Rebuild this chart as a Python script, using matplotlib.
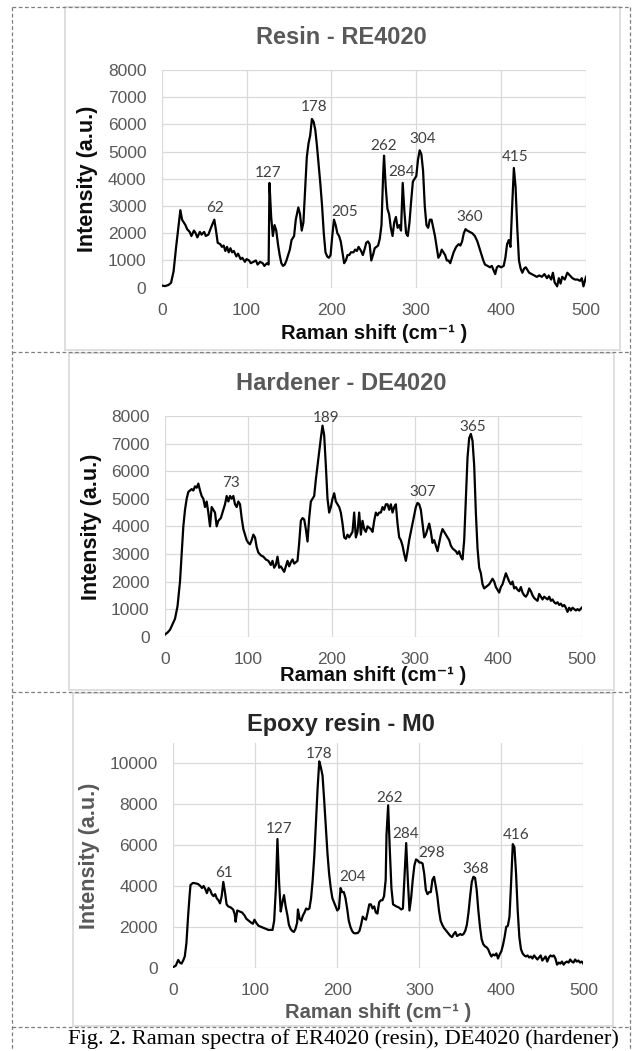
import matplotlib
matplotlib.use("Agg")
import matplotlib.pyplot as plt
from matplotlib.lines import Line2D
from matplotlib.patches import Rectangle

# --------------------
# Data: Raman shift (cm-1) and intensity (a.u.)

# Resin - RE4020
resin_shift = [0, 4, 8, 11, 14, 17, 20, 22, 24, 26, 28, 30, 33, 35, 38, 40, 42, 45, 47, 50,
               52, 55, 58, 60, 62, 64, 66, 69, 71, 73, 75, 77, 79, 81, 83, 85, 88, 90, 93, 95,
               98, 100, 103, 105, 108, 111, 113, 116, 119, 121, 124, 126, 127, 129, 131, 133,
               135, 137, 139, 141, 143, 145, 147, 149, 151, 153, 156, 158, 161, 163, 165, 167,
               169, 171, 173, 175, 177, 179, 181, 183, 185, 187, 189, 191, 193, 195, 197, 199,
               201, 203, 205, 207, 209, 211, 213, 215, 217, 219, 221, 223, 226, 228, 230, 232,
               235, 237, 239, 241, 243, 245, 247, 249, 251, 253, 255, 257, 259, 261, 262, 264,
               266, 268, 270, 272, 274, 276, 278, 280, 282, 284, 286, 288, 290, 292, 294, 296,
               298, 300, 302, 304, 306, 308, 310, 312, 314, 316, 318, 320, 322, 324, 326, 328,
               330, 332, 334, 336, 338, 340, 342, 344, 347, 350, 352, 354, 356, 358, 360, 363,
               366, 369, 372, 375, 377, 379, 381, 384, 387, 389, 391, 393, 395, 397, 400, 403,
               405, 407, 409, 411, 413, 415, 417, 419, 421, 423, 425, 427, 429, 431, 433, 436,
               439, 442, 445, 448, 451, 454, 456, 459, 461, 463, 466, 468, 470, 472, 475, 478,
               481, 484, 487, 490, 493, 495, 497, 500]
resin_intensity = [80, 60, 100, 180, 600, 1500, 2300, 2850, 2500, 2400, 2300, 2150, 2050, 1900,
                   2100, 2000, 1850, 2050, 1950, 2050, 1900, 1950, 2200, 2350, 2500, 2100, 1650,
                   1600, 1500, 1550, 1350, 1500, 1300, 1450, 1300, 1350, 1150, 1250, 1050, 1100,
                   950, 1050, 1000, 900, 950, 1000, 850, 950, 900, 800, 900, 850, 3850, 2600,
                   1900, 2300, 2100, 1600, 1200, 900, 800, 850, 1000, 1200, 1400, 1750, 1900,
                   2500, 2950, 2700, 2100, 2400, 3600, 4800, 5300, 5600, 6200, 6100, 5800, 5200,
                   4500, 3800, 3000, 2000, 1300, 1150, 1100, 1200, 1900, 2500, 2300, 2000, 1900,
                   1700, 1300, 900, 1000, 1200, 1200, 1300, 1300, 1400, 1350, 1500, 1350, 1200,
                   1400, 1650, 1700, 1600, 1000, 1200, 1450, 1500, 1550, 1800, 2300, 4200, 4850,
                   3700, 2900, 2700, 2200, 1900, 2400, 2600, 2200, 2300, 2100, 3850, 2800, 2000,
                   1900, 2400, 3200, 3900, 4000, 4100, 4700, 5050, 4900, 4300, 3000, 2300, 2200,
                   2500, 2500, 2200, 1900, 1500, 1100, 1200, 1400, 1300, 1200, 1000, 1000, 900,
                   1100, 1300, 1500, 1600, 1550, 1700, 2000, 2150, 2100, 2050, 2000, 1900, 1700,
                   1400, 1200, 1000, 850, 800, 750, 800, 650, 500, 750, 800, 750, 800, 1100, 1600,
                   1750, 1500, 3000, 4400, 3700, 2200, 1000, 700, 550, 700, 750, 650, 550, 500,
                   450, 400, 450, 400, 500, 350, 450, 300, 550, 200, 50, 350, 150, 400, 300, 550,
                   450, 350, 300, 300, 250, 350, 50, 400]
resin_peaks = [62, 127, 178, 205, 262, 284, 304, 360, 415]
resin_peak_x = [63, 125, 180, 215, 261, 283, 307, 363, 416]
resin_peak_y = [2940, 4200, 6630, 2790, 5210, 4260, 5470, 2590, 4820]

# Hardener - DE4020
hardener_shift = [0, 3, 6, 9, 12, 15, 18, 20, 22, 24, 26, 28, 30, 32, 34, 36, 38, 40, 42, 44,
                  46, 48, 50, 52, 54, 56, 58, 60, 62, 64, 67, 70, 72, 74, 76, 78, 80, 82, 84, 86,
                  88, 90, 92, 94, 96, 98, 100, 102, 104, 106, 108, 110, 112, 115, 118, 121, 124,
                  127, 129, 131, 133, 135, 137, 139, 141, 143, 145, 147, 149, 151, 153, 155, 157,
                  159, 161, 163, 165, 167, 169, 171, 173, 175, 177, 179, 181, 183, 185, 187, 189,
                  191, 193, 195, 197, 199, 201, 203, 205, 207, 209, 211, 213, 215, 217, 219, 221,
                  223, 225, 227, 229, 231, 233, 235, 237, 239, 241, 243, 245, 247, 249, 251, 253,
                  255, 257, 259, 261, 263, 265, 267, 269, 271, 273, 275, 277, 279, 281, 283, 285,
                  287, 289, 291, 293, 295, 297, 299, 301, 303, 305, 307, 309, 311, 313, 315, 317,
                  319, 321, 323, 325, 327, 329, 331, 333, 335, 337, 339, 341, 343, 345, 347, 349,
                  351, 353, 355, 357, 359, 361, 363, 365, 367, 369, 371, 373, 375, 377, 379, 381,
                  383, 385, 387, 389, 391, 393, 395, 397, 399, 401, 403, 405, 407, 409, 411, 413,
                  415, 417, 419, 421, 423, 425, 427, 429, 431, 433, 435, 437, 439, 441, 443, 445,
                  447, 449, 451, 453, 455, 457, 459, 461, 463, 465, 467, 469, 471, 473, 475, 477,
                  479, 481, 483, 485, 487, 489, 491, 493, 495, 497, 500]
hardener_intensity = [80, 150, 250, 450, 650, 1100, 2000, 3000, 4000, 4600, 5000, 5250, 5300,
                      5350, 5300, 5450, 5400, 5550, 5300, 5100, 5000, 4700, 4900, 4500, 4000,
                      4700, 4600, 4500, 4000, 4200, 4300, 4600, 4800, 5100, 4900, 5100, 5000,
                      5100, 4800, 4700, 4900, 4800, 4300, 3900, 3700, 3500, 3400, 3350, 3500,
                      3700, 3600, 3250, 3050, 2950, 2900, 2800, 2750, 2600, 2750, 2500, 2600,
                      2900, 2500, 2550, 2450, 2350, 2550, 2750, 2550, 2700, 2800, 2650, 2700,
                      2750, 3400, 4200, 4300, 4250, 3900, 3450, 4300, 4900, 5000, 5100, 5700,
                      6200, 6700, 7200, 7650, 7300, 6200, 5000, 4500, 4700, 5000, 5200, 4900,
                      4800, 4700, 4500, 4100, 3600, 3550, 3700, 3600, 3700, 3800, 4500, 3600,
                      3800, 4500, 3700, 4200, 3900, 3800, 4000, 3950, 3900, 3800, 4200, 4500,
                      4400, 4500, 4500, 4700, 4600, 4800, 4800, 4600, 4800, 4500, 4700, 4800,
                      4100, 3600, 3500, 3300, 3000, 2750, 3100, 3500, 3800, 4100, 4400, 4700,
                      4850, 4800, 4600, 4100, 3600, 3700, 3900, 4100, 3800, 3400, 3500, 3300,
                      3100, 3400, 3700, 3900, 3800, 3700, 3600, 3500, 3300, 3200, 3150, 3100,
                      3000, 3100, 2900, 2800, 3500, 5000, 6500, 7200, 7350, 7100, 6200, 4500,
                      3200, 2500, 2300, 1900, 1750, 1800, 1850, 1900, 2000, 2100, 2000, 1800,
                      1700, 1600, 1800, 1900, 2100, 2300, 2150, 2000, 1900, 2000, 1750, 1800,
                      1700, 1650, 1800, 1600, 1500, 1450, 1550, 1750, 1650, 1500, 1400, 1350,
                      1300, 1550, 1450, 1350, 1450, 1400, 1350, 1450, 1300, 1350, 1250, 1200,
                      1250, 1150, 1200, 1100, 1150, 1050, 900, 1050, 950, 1050, 1000, 950, 1000,
                      950, 1050]
hardener_peaks = [73, 189, 307, 365]
hardener_peak_x = [79, 193, 309, 369]
hardener_peak_y = [5560, 7920, 5260, 7590]

# Epoxy resin - M0
epoxy_shift = [0, 3, 6, 8, 10, 12, 14, 16, 18, 20, 21, 24, 27, 30, 33, 35, 37, 39, 41, 43, 45,
               47, 49, 51, 53, 55, 57, 59, 61, 63, 65, 67, 70, 73, 75, 76, 78, 81, 84, 87, 89,
               92, 95, 97, 99, 101, 104, 107, 110, 113, 116, 119, 121, 123, 125, 127, 129, 131,
               133, 135, 137, 139, 141, 143, 145, 147, 149, 151, 152, 154, 156, 158, 160, 162,
               164, 166, 168, 170, 172, 174, 176, 178, 180, 182, 184, 186, 188, 190, 192, 194,
               196, 198, 200, 202, 204, 206, 208, 210, 212, 214, 216, 218, 220, 222, 225, 227,
               229, 231, 233, 235, 237, 239, 241, 243, 245, 247, 249, 251, 253, 255, 257, 259,
               260, 262, 264, 266, 268, 270, 272, 275, 278, 280, 282, 284, 286, 288, 290, 292,
               294, 296, 298, 300, 302, 304, 306, 308, 310, 312, 314, 316, 318, 320, 322, 324,
               326, 328, 330, 332, 334, 336, 338, 340, 342, 344, 346, 348, 350, 352, 354, 356,
               358, 360, 362, 364, 366, 368, 370, 372, 374, 376, 378, 380, 382, 384, 386, 388,
               390, 392, 394, 396, 398, 400, 402, 404, 406, 408, 410, 412, 414, 416, 418, 420,
               422, 424, 426, 428, 430, 432, 434, 436, 438, 440, 442, 444, 446, 448, 450, 452,
               454, 456, 458, 460, 462, 464, 466, 468, 470, 472, 474, 476, 478, 480, 482, 484,
               486, 488, 490, 492, 494, 496, 498, 500]
epoxy_intensity = [30, 100, 380, 250, 200, 350, 550, 1200, 2500, 3600, 4050, 4150, 4130, 4100,
                   4000, 3900, 4000, 3850, 3650, 3900, 3800, 3600, 3500, 3600, 3400, 3300, 3150,
                   3500, 4200, 3700, 3100, 3000, 2950, 2850, 2600, 2250, 2800, 2750, 2700, 2550,
                   2400, 2300, 2200, 2150, 2350, 2200, 2050, 2000, 1950, 1900, 1850, 1850, 1850,
                   2300, 3800, 6300, 4200, 2750, 3200, 3550, 3000, 2600, 2100, 1900, 1800, 1750,
                   1900, 2200, 2850, 2400, 2300, 2550, 2700, 2900, 2850, 2900, 3400, 4300, 5500,
                   7200, 8800, 10100, 9800, 9400, 8200, 6900, 5600, 4600, 3900, 3400, 3200, 3000,
                   2800, 2900, 3900, 3700, 3700, 3400, 2900, 2300, 2000, 1800, 1700, 1680, 1700,
                   1800, 2100, 2500, 2400, 2350, 2700, 3100, 3100, 2900, 3000, 2700, 2650, 3200,
                   3300, 3300, 3500, 4300, 6500, 7950, 5800, 3900, 3100, 3050, 3000, 2950, 2850,
                   2900, 4500, 6100, 4300, 2800, 3400, 4300, 5000, 5300, 5250, 5150, 5150, 5100,
                   4600, 3800, 3600, 3700, 3700, 4300, 4450, 4000, 3500, 2800, 2300, 2100, 1950,
                   1850, 1750, 1650, 1550, 1500, 1650, 1750, 1550, 1600, 1650, 1600, 1650, 1800,
                   2100, 2700, 3500, 4200, 4450, 4400, 3800, 2800, 2000, 1400, 1150, 1050, 1000,
                   900, 700, 550, 650, 600, 700, 450, 650, 800, 1100, 1500, 2000, 2050, 2500,
                   4200, 6050, 5900, 4600, 2800, 1500, 900, 700, 600, 550, 600, 500, 550, 450,
                   600, 500, 400, 500, 600, 350, 450, 550, 300, 500, 600, 550, 600, 450, 150, 250,
                   200, 300, 150, 250, 300, 250, 400, 300, 250, 400, 300, 350, 250, 300, 200]
epoxy_peaks = [61, 127, 178, 204, 262, 284, 298, 368, 416]
epoxy_peak_x = [62, 129, 178, 219, 264, 283, 315, 369, 418]
epoxy_peak_y = [4650, 6770, 10460, 4450, 8290, 6530, 5600, 4810, 6480]

# --------------------
W, H = 637, 1051
fig = plt.figure(figsize=(W / 100, H / 100), dpi=100)


def px(x, y):
    """Convert pixel coordinates (from top-left) to figure fractions."""
    return x / W, 1 - y / H


def draw_panel(rect, shift, intensity, peaks, peak_x, peak_y, ymax, ystep, yticks_top,
               title, title_xy, title_color, label_color, ylabel_x, xlabel_y):
    ax = fig.add_axes(rect)
    ax.plot(shift, intensity, color='black', linewidth=1.6)
    ax.set_xlim(0, 500)
    ax.set_ylim(0, ymax)
    ax.set_xticks(range(0, 501, 100))
    ax.set_yticks(range(0, yticks_top + 1, ystep))
    ax.grid(True, color='#d9d9d9', linewidth=0.9)
    ax.set_axisbelow(True)
    for s in ax.spines.values():
        s.set_visible(False)
    ax.tick_params(length=0, labelsize=12.5, labelcolor='#595959', pad=11)
    for t in ax.get_xticklabels() + ax.get_yticklabels():
        t.set_family('Liberation Sans')
    ax.set_ylabel('Intensity (a.u.)', fontsize=15.5, fontweight='bold',
                  color=label_color, family='Liberation Sans')
    ax.set_xlabel('Raman shift (cm\u207b\u00b9 )', fontsize=14.5, fontweight='bold',
                  color=label_color, family=['Liberation Sans', 'DejaVu Sans'])
    ax.yaxis.set_label_coords(ylabel_x, 0.5)
    ax.xaxis.set_label_coords(0.5, xlabel_y)
    # peak labels
    for p, x, y in zip(peaks, peak_x, peak_y):
        ax.text(x, y, str(p), ha='center', va='center', fontsize=11,
                color='#404040', family='Lato')
    tx, ty = px(*title_xy)
    fig.text(tx, ty, title, ha='center', va='center', fontsize=17,
             fontweight='bold', color=title_color, family='Liberation Sans')
    return ax


# Resin panel
draw_panel([161.7 / W, 1 - 287.7 / H, 424.3 / W, 217.7 / H],
           resin_shift, resin_intensity, resin_peaks, resin_peak_x, resin_peak_y,
           8000, 1000, 8000, 'Resin - RE4020', (341, 38), '#595959', '#0d0d0d',
           -0.151, -0.169)

# Hardener panel
draw_panel([165 / W, 1 - 636.7 / H, 416.7 / W, 220.7 / H],
           hardener_shift, hardener_intensity, hardener_peaks, hardener_peak_x,
           hardener_peak_y, 8000, 1000, 8000, 'Hardener - DE4020', (341, 383),
           '#595959', '#0d0d0d', -0.151, -0.135)

# Epoxy panel
draw_panel([173.3 / W, 1 - 967.7 / H, 410 / W, 224.7 / H],
           epoxy_shift, epoxy_intensity, epoxy_peaks, epoxy_peak_x, epoxy_peak_y,
           11000, 2000, 10000, 'Epoxy resin - M0', (341, 724), '#262626', '#595959',
           -0.178, -0.155)

# --------------------
# Chart frames (light gray) and dashed outline boxes
for x0, y0, x1, y1 in [(65, 7, 620, 350), (69, 353, 614, 690), (73, 693, 613, 1026)]:
    fx0, fy1 = px(x0, y0)
    fx1, fy0 = px(x1, y1)
    fig.add_artist(Rectangle((fx0, fy0), fx1 - fx0, fy1 - fy0, transform=fig.transFigure,
                             fill=False, edgecolor='#d9d9d9', linewidth=1.2))

dash = dict(color='#7f7f7f', linewidth=0.9, linestyle=(0, (3, 2)))
for yy in [7, 352, 692, 1027]:
    fig.add_artist(Line2D([12 / W, 630 / W], [1 - yy / H] * 2, transform=fig.transFigure, **dash))
for xx in [12, 630]:
    fig.add_artist(Line2D([xx / W] * 2, [1 - 7 / H, 0], transform=fig.transFigure, **dash))

cx, cy = px(343, 1039)
fig.text(cx, cy, 'Fig. 2. Raman spectra of ER4020 (resin), DE4020 (hardener)',
         ha='center', va='center', fontsize=16.2, family='Liberation Serif', color='black')

fig.savefig('out.png', dpi=100)
